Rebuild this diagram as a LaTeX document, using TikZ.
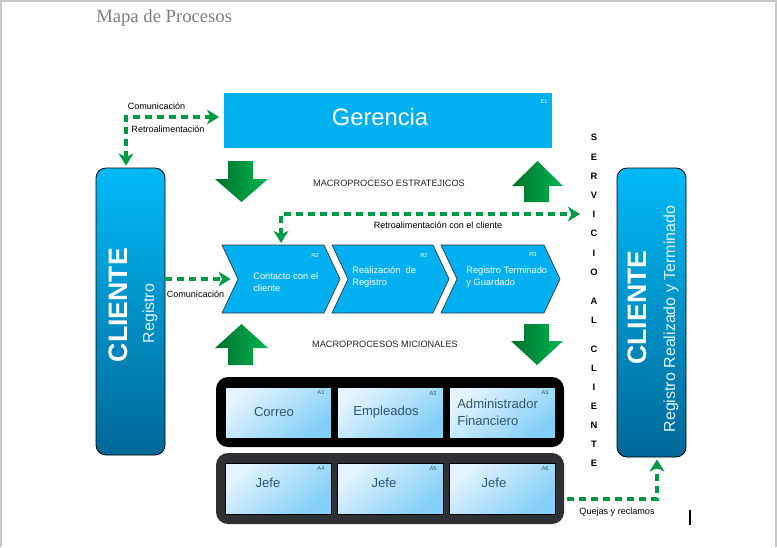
\documentclass[tikz,border=0pt]{standalone}
\usepackage{fontspec}
\setmainfont{Liberation Sans}
\newfontfamily\titlefont{Liberation Serif}
\usetikzlibrary{arrows.meta,calc}
\definecolor{cyanbox}{HTML}{00B0F0}
\definecolor{cltop}{HTML}{00BAF7}
\definecolor{clbot}{HTML}{006898}
\definecolor{gdark}{HTML}{00702C}
\definecolor{glight}{HTML}{00B652}
\definecolor{gline}{HTML}{009B45}
\definecolor{lbtop}{HTML}{E4F4FE}
\definecolor{lbbot}{HTML}{82CFF8}
\definecolor{lbtext}{HTML}{2E5675}
\definecolor{panelgray}{HTML}{2D3134}
\definecolor{framegray}{HTML}{C8C8C8}
\definecolor{titlegray}{HTML}{7F7F7F}
\begin{document}
\begin{tikzpicture}[x=0.75pt,y=-0.75pt,
  tipg/.tip={Stealth[length=9pt,width=11pt,inset=2.5pt]},
  conn/.style={draw=gline, line width=3pt, dash pattern=on 5.25pt off 3.75pt},
  lbl/.style={font=\fontsize{6.8}{8}\selectfont, text=black, inner sep=0pt},
  macro/.style={font=\fontsize{6.9}{8}\selectfont, text=black!85, inner sep=0pt},
  clientbox/.style={draw=black, line width=0.6pt, rounded corners=7.5pt, top color=cltop, bottom color=clbot,
     minimum width=51.75pt, inner sep=0pt},
  chev/.style={draw=black!80, line width=0.5pt, fill=cyanbox},
  chevtxt/.style={font=\fontsize{7}{9}\selectfont, text=white, align=left, anchor=west, inner sep=0pt},
  tag/.style={font=\fontsize{4.3}{5}\selectfont, inner sep=0pt},
  panel/.style={rounded corners=9pt, minimum width=261pt, inner sep=0pt},
  abox/.style={draw=black, line width=0.5pt, top color=lbtop, bottom color=lbbot, shading angle=40,
     minimum width=79.5pt, minimum height=38.25pt, inner sep=0pt},
  atxt/.style={font=\fontsize{9.8}{12.75}\selectfont, text=lbtext, inner sep=0pt},
  blockarr/.style={left color=gdark, right color=glight},
  svc/.style={font=\bfseries\fontsize{7}{8}\selectfont, inner sep=0pt}
]
\useasboundingbox (0,0) rectangle (777,547);
% frame
\draw[framegray, line width=1.5pt] (1,547) -- (1,1) -- (776,1) -- (776,547);
% title
\node[anchor=west, inner sep=0pt, text=titlegray, font=\titlefont\fontsize{14}{16}\selectfont] (title) at (96,18) {Mapa de Procesos};

% Gerencia
\node[fill=cyanbox, minimum width=246pt, minimum height=41.25pt, inner sep=0pt] (ger) at (388,120.5) {};
\node[text=white, font=\fontsize{17.8}{20}\selectfont, inner sep=0pt] (gertxt) at (380,117) {Gerencia};
\node[tag, text=white] (e1) at (544,102) {E1};

% Clients
\node[clientbox, minimum height=215.25pt] (cl1) at (130.5,311.5) {};
\node[rotate=90, text=white, font=\bfseries\fontsize{20}{24}\selectfont, inner sep=0pt] (cl1t) at (118,305) {CLIENTE};
\node[rotate=90, text=white!88!cyan, font=\fontsize{11.9}{14}\selectfont, inner sep=0pt] (cl1s) at (150,313.5) {Registro};

\node[clientbox, minimum height=216.75pt] (cl2) at (651.5,312.5) {};
\node[rotate=90, text=white, font=\bfseries\fontsize{20}{24}\selectfont, inner sep=0pt] (cl2t) at (637,307.5) {CLIENTE};
\node[rotate=90, text=white!88!cyan, font=\fontsize{12}{14}\selectfont, inner sep=0pt] (cl2s) at (671,319) {Registro Realizado y Terminado};

% block arrows
\shade[blockarr] (228,161) -- (253,161) -- (253,179) -- (268,179) -- (241.5,202) -- (215,179) -- (228,179) -- cycle;
\shade[blockarr] (537.5,161) -- (563,186) -- (549,186) -- (549,202) -- (524,202) -- (524,186) -- (512,186) -- cycle;
\shade[blockarr] (241.5,324) -- (268,348) -- (253,348) -- (253,365) -- (228,365) -- (228,348) -- (215,348) -- cycle;
\shade[blockarr] (524,324) -- (549,324) -- (549,341) -- (563,341) -- (537,365) -- (511,341) -- (524,341) -- cycle;

\node[macro] (m1) at (389,183) {MACROPROCESO ESTRATEJICOS};
\node[macro] (m2) at (385,344) {MACROPROCESOS MICIONALES};

% chevrons
\foreach \a/\b in {222/340, 332/449, 441/560}
  \draw[chev] (\a,245) -- (\b-16,245) -- (\b,279) -- (\b-16,313) -- (\a,313) -- (\a+16,279) -- cycle;
\coordinate (ch1notch) at (238,279);
\coordinate (ch1top) at (281,245);
\node[chevtxt] (ch1t) at (253,282) {Contacto con el\\cliente};
\node[chevtxt] (ch2t) at (352,277.5) {Realización\ \ de\\Registro};
\node[chevtxt] (ch3t) at (466,277.5) {Registro Terminado\\y Guardado};
\node[tag, text=white] (r1) at (315,255) {R2};
\node[tag, text=white] (r2) at (424,255) {R2};
\node[tag, text=white] (r3) at (533,255) {R3};

% SERVICIO AL CLIENTE
\foreach \l/\y in {S/137,E/157,R/176,V/195,I/214,C/233,I/253,O/272,A/301,L/320,C/349,L/368,I/387,E/406,N/425,T/444,E/463}
  \node[svc] (sv\y) at (594,\y) {\l};

% panels
\node[panel, fill=black, minimum height=52.5pt] (p1) at (390,412) {};
\node[panel, fill=panelgray, minimum height=53.25pt] (p2) at (390,488.5) {};
\node[abox] (a1) at (278,412.5) {};
\node[abox] (a2) at (390,412.5) {};
\node[abox] (a3) at (502.5,412.5) {};
\node[abox] (a4) at (278,488.5) {};
\node[abox] (a5) at (390,488.5) {};
\node[abox] (a6) at (502.5,488.5) {};
\node[atxt] (t1) at (274,412) {Correo};
\node[atxt] (t2) at (386,412) {Empleados};
\node[atxt, anchor=west, align=left] (t3) at (457,412.5) {Administrador\\Financiero};
\node[atxt] (t4) at (268,483) {Jefe};
\node[atxt] (t5) at (384,483) {Jefe};
\node[atxt] (t6) at (494,483) {Jefe};
\foreach \n/\x/\y in {A1/321/393, A2/433/393, A3/545/393, A4/321/469, A5/433/469, A6/545/469}
  \node[tag, text=lbtext] (tag\n) at (\x,\y) {\n};

% connectors
\coordinate (k1) at (126,117);
\draw[conn, {tipg}-{tipg}, shorten <=1.5pt, shorten >=3.5pt] (cl1.north -| k1) -- (k1) -- (k1 -| ger.west);
\node[lbl] (l1) at (156.5,106) {Comunicación};
\node[lbl] (l2) at (168,129) {Retroalimentación};

\draw[conn, -{tipg}, shorten >=5.5pt] (cl1.east |- ch1notch) -- (ch1notch);
\node[lbl] (l3) at (195.5,294) {Comunicación};

\coordinate (rt) at (281,214);
\coordinate (srv) at (580,214);
\draw[conn, {tipg}-{tipg}, shorten <=1.5pt] (ch1top) -- (rt) -- (srv);
\node[lbl] (l4) at (438,225) {Retroalimentación con el cliente};

\coordinate (q) at (657,499);
\draw[conn, -{tipg}, shorten <=2pt, shorten >=1.5pt] (p2.east |- q) -- (q) -- (q |- cl2.south);
\node[lbl] (l5) at (617,512) {Quejas y reclamos};

% cursor mark
\draw[black, line width=0.9pt] (690,510) -- (690,525);
\end{tikzpicture}
\end{document}
